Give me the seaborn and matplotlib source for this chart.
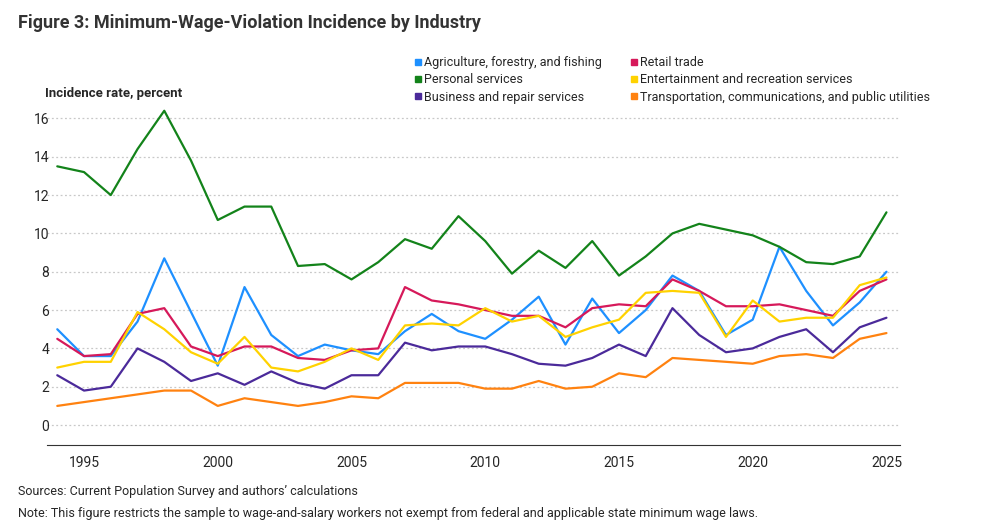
import numpy as np
import pandas as pd
import matplotlib.pyplot as plt
import seaborn as sns

years = list(range(1994, 2026))
agriculture = [5.0, 3.6, 3.6, 5.4, 8.7, 5.9, 3.1, 7.2, 4.7, 3.6, 4.2, 3.9, 3.7, 4.9, 5.8, 4.9,
               4.5, 5.5, 6.7, 4.2, 6.6, 4.8, 6.0, 7.8, 7.0, 4.7, 5.5, 9.3, 7.0, 5.2, 6.4, 8.0]
retail = [4.5, 3.6, 3.7, 5.8, 6.1, 4.1, 3.6, 4.1, 4.1, 3.5, 3.4, 3.9, 4.0, 7.2, 6.5, 6.3,
          6.0, 5.7, 5.7, 5.1, 6.1, 6.3, 6.2, 7.6, 7.0, 6.2, 6.2, 6.3, 6.0, 5.7, 7.0, 7.6]
personal = [13.5, 13.2, 12.0, 14.4, 16.4, 13.8, 10.7, 11.4, 11.4, 8.3, 8.4, 7.6, 8.5, 9.7, 9.2, 10.9,
            9.6, 7.9, 9.1, 8.2, 9.6, 7.8, 8.8, 10.0, 10.5, 10.2, 9.9, 9.3, 8.5, 8.4, 8.8, 11.1]
entertainment = [3.0, 3.3, 3.3, 5.9, 5.0, 3.8, 3.2, 4.6, 3.0, 2.8, 3.3, 4.0, 3.4, 5.2, 5.3, 5.2,
                 6.1, 5.4, 5.7, 4.6, 5.1, 5.5, 6.9, 7.0, 6.9, 4.6, 6.5, 5.4, 5.6, 5.6, 7.3, 7.7]
business = [2.6, 1.8, 2.0, 4.0, 3.3, 2.3, 2.7, 2.1, 2.8, 2.2, 1.9, 2.6, 2.6, 4.3, 3.9, 4.1,
            4.1, 3.7, 3.2, 3.1, 3.5, 4.2, 3.6, 6.1, 4.7, 3.8, 4.0, 4.6, 5.0, 3.8, 5.1, 5.6]
transport = [1.0, 1.2, 1.4, 1.6, 1.8, 1.8, 1.0, 1.4, 1.2, 1.0, 1.2, 1.5, 1.4, 2.2, 2.2, 2.2,
             1.9, 1.9, 2.3, 1.9, 2.0, 2.7, 2.5, 3.5, 3.4, 3.3, 3.2, 3.6, 3.7, 3.5, 4.5, 4.8]

series = {
    "Agriculture, forestry, and fishing": agriculture,
    "Retail trade": retail,
    "Personal services": personal,
    "Entertainment and recreation services": entertainment,
    "Business and repair services": business,
    "Transportation, communications, and public utilities": transport,
}
colors = ["#1e90ff", "#d6195a", "#13831a", "#ffd200", "#4b2a9a", "#ff8210"]

df = pd.DataFrame(series, index=years).reset_index(names="year")
df = df.melt(id_vars="year", var_name="industry", value_name="rate")

sns.set_style("white")
plt.rcParams['font.family'] = ['Roboto', 'DejaVu Sans']

fig = plt.figure(figsize=(9.91, 5.25), dpi=100)
ax = fig.add_axes([0.047, 0.152, 0.861, 0.648])
sns.lineplot(data=df, x="year", y="rate", hue="industry", palette=colors, linewidth=1.6, ax=ax, legend=False)

ax.set_xlim(1993.6, 2025.5)
ax.set_ylim(-1.05, 16.7)
ax.set_xticks(range(1995, 2026, 5))
ax.set_yticks(range(0, 17, 2))
ax.tick_params(axis='x', length=4, color='#333333', labelsize=10)
ax.tick_params(axis='y', length=0, labelsize=10, pad=-2)
ax.grid(axis='y', linestyle=(0, (1.5, 2)), color='#c8c8c8', linewidth=0.9)
for s in ['top', 'right', 'left']:
    ax.spines[s].set_visible(False)
ax.spines['bottom'].set_color('#333333')
ax.set_xlabel("")
ax.set_ylabel("")

fig.text(0.045, 0.81, "Incidence rate, percent", fontsize=9.5, fontweight='bold', va='bottom')
fig.text(0.018, 0.94, "Figure 3: Minimum-Wage-Violation Incidence by Industry", fontsize=13,
         fontweight='bold', color='#333333', va='bottom')

# legend fills column-major; reorder so rows read as in the reference
names = list(series.keys())
order = [0, 2, 4, 1, 3, 5]
handles = [plt.Line2D([], [], color=colors[i], marker='s', linestyle='', markersize=5) for i in order]
fig.legend(handles, [names[i] for i in order], ncol=2, loc='upper left', bbox_to_anchor=(0.405, 0.915),
           frameon=False, fontsize=9, handletextpad=0.1, columnspacing=2.2, labelspacing=0.35,
           handlelength=0.8)

fig.text(0.018, 0.057, "Sources: Current Population Survey and authors\u2019 calculations", fontsize=9)
fig.text(0.018, 0.015, "Note: This figure restricts the sample to wage-and-salary workers not exempt from federal and applicable state minimum wage laws.", fontsize=9)

fig.savefig("out.png", dpi=100)
